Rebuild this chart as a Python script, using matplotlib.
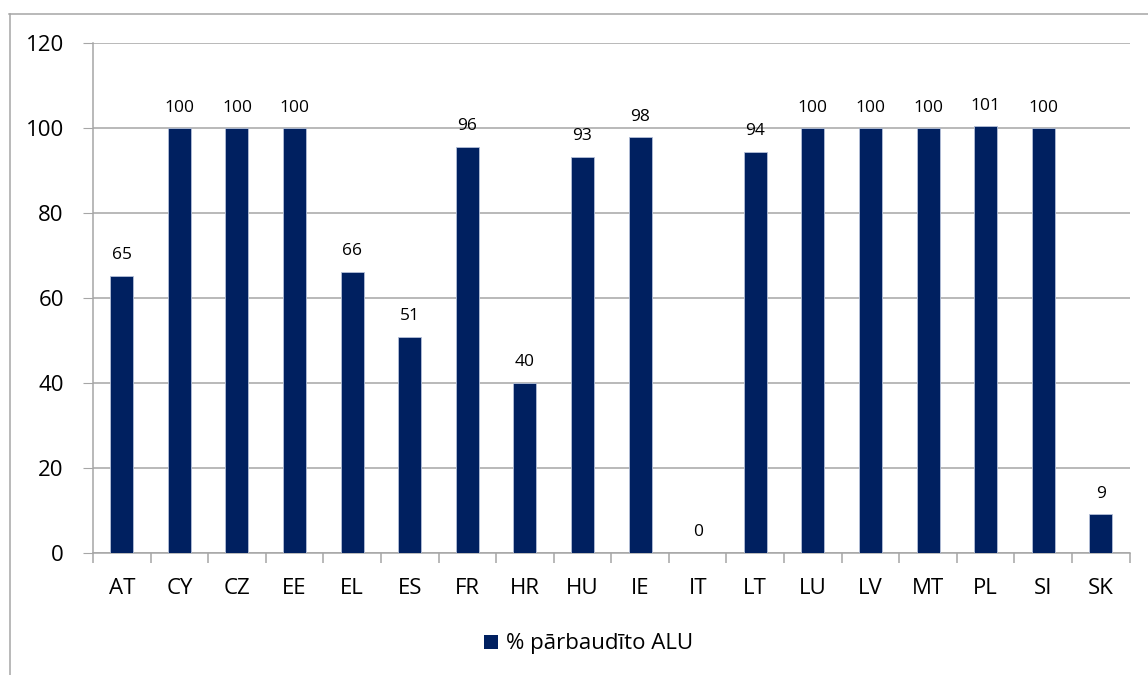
import numpy as np
import matplotlib.pyplot as plt
from matplotlib.lines import Line2D
from matplotlib.patches import Patch

plt.rcParams['font.family'] = ['Open Sans', 'DejaVu Sans']

# data
countries = ["AT", "CY", "CZ", "EE", "EL", "ES", "FR", "HR", "HU",
             "IE", "IT", "LT", "LU", "LV", "MT", "PL", "SI", "SK"]
checked_pct = [65.3, 100, 100, 100, 66.2, 50.9, 95.6, 40.0, 93.3,
               97.8, 0, 94.4, 100, 100, 100, 100.5, 100, 9.1]
bar_labels = ["65", "100", "100", "100", "66", "51", "96", "40", "93",
              "98", "0", "94", "100", "100", "100", "101", "100", "9"]
legend_label = "% pārbaudīto ALU"

bar_color = "#002060"
grid_color = "#a6a6a6"

fig = plt.figure(figsize=(11.48, 6.75), dpi=100)
ax = fig.add_axes([0.081, 0.181, 0.903, 0.755])

x = np.arange(len(countries))
bars = ax.bar(x, checked_pct, width=0.4, color=bar_color,
              edgecolor="#b4c0d8", linewidth=0.6, zorder=3)

for xi, val, lab in zip(x, checked_pct, bar_labels):
    ax.annotate(lab, (xi, val), xytext=(0, 9), textcoords="offset points",
                ha="center", va="bottom", fontsize=12.5, color="#000000")

ax.set_xlim(-0.5, len(countries) - 0.5)
ax.set_ylim(0, 120)
ax.set_yticks(np.arange(0, 121, 20))
ax.tick_params(axis="y", labelsize=16, length=7, color=grid_color, pad=14)
ax.yaxis.grid(True, color=grid_color, linewidth=1.1, zorder=0)

# category ticks between bars, labels centered under bars
ax.set_xticks(x)
ax.set_xticklabels(countries)
ax.set_xticks(np.arange(-0.5, len(countries), 1.0), minor=True)
ax.tick_params(axis="x", which="major", length=0, labelsize=16, pad=18)
ax.tick_params(axis="x", which="minor", length=7, color=grid_color, width=1.1)

for side in ["top", "right"]:
    ax.spines[side].set_visible(False)
for side in ["left", "bottom"]:
    ax.spines[side].set_color(grid_color)
    ax.spines[side].set_linewidth(1.1)

leg = fig.legend(handles=[Patch(facecolor=bar_color, label=legend_label)],
                 loc="center", bbox_to_anchor=(0.513, 0.046), frameon=False,
                 fontsize=16, handlelength=0.6, handleheight=0.6,
                 handletextpad=0.4)

# outer chart frame (partly visible in the source)
fig.add_artist(Line2D([9 / 1148, 1.0], [1 - 14 / 675, 1 - 14 / 675],
                      color=grid_color, linewidth=1.1))
fig.add_artist(Line2D([10 / 1148, 10 / 1148], [0, 1 - 14 / 675],
                      color=grid_color, linewidth=1.1))

fig.savefig("out.png", dpi=100)
